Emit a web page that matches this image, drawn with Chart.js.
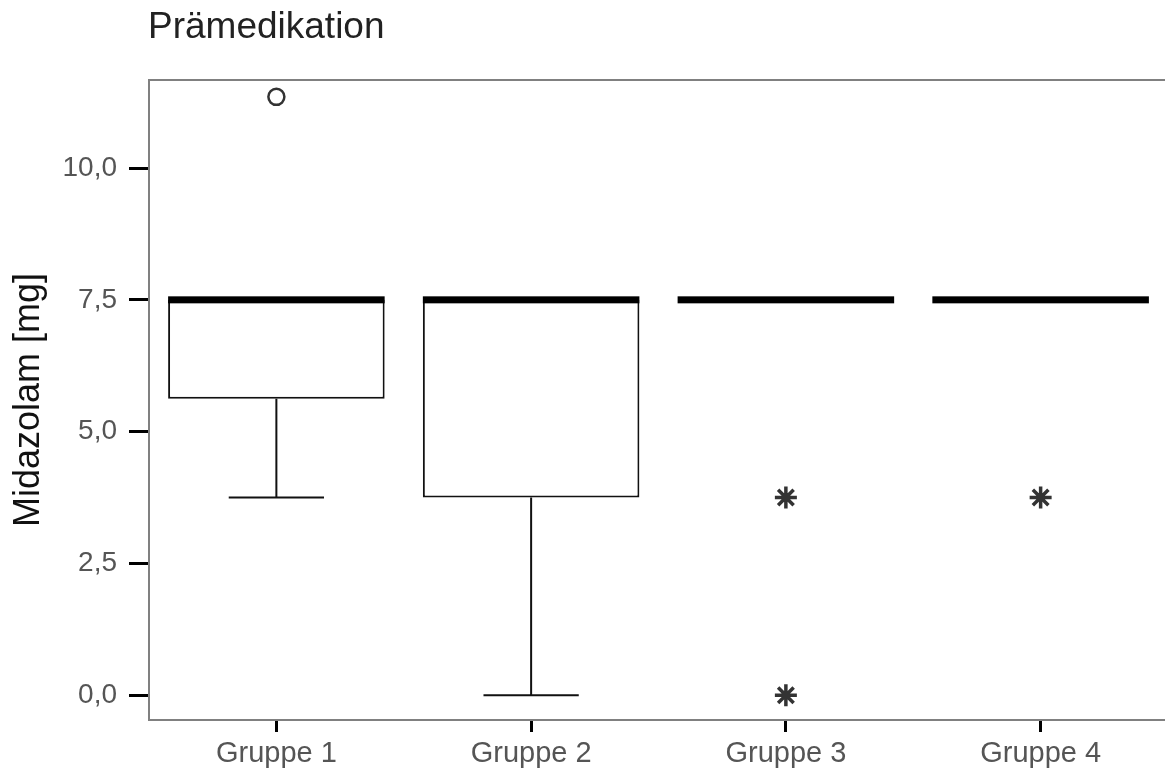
<!DOCTYPE html>
<html>
<head>
<meta charset="utf-8">
<script src="https://cdn.jsdelivr.net/npm/chart.js@4/dist/chart.umd.min.js"></script>
<style>
  html, body { margin: 0; padding: 0; overflow: hidden; background: #fff; }
  canvas { display: block; }
</style>
</head>
<body>
<canvas id="chart" width="1168" height="771"></canvas>
<script>
// Daten
const gruppen = ['Gruppe 1', 'Gruppe 2', 'Gruppe 3', 'Gruppe 4'];
const q1 = [5.625, 3.75, 7.5, 7.5];
const q3 = [7.5, 7.5, 7.5, 7.5];
const median = [7.5, 7.5, 7.5, 7.5];
const whiskerMin = [3.75, 0, 7.5, 7.5];
const whiskerMax = [7.5, 7.5, 7.5, 7.5];

// Ausreißer (Kreis) und Extremwerte (Stern)
const ausreisserGruppe = ['Gruppe 1'];
const ausreisserWert = [11.35];
const extremGruppe = ['Gruppe 3', 'Gruppe 3', 'Gruppe 4'];
const extremWert = [3.75, 0, 3.75];

const yTicks = [0, 2.5, 5, 7.5, 10];

const fmt = v => v.toFixed(1).replace('.', ',');

// Median, Whisker, obere Rahmenlinie und Titel
const boxPlugin = {
  id: 'boxPlugin',
  afterDatasetsDraw(chart) {
    const ctx = chart.ctx;
    const y = chart.scales.y;
    const meta = chart.getDatasetMeta(0);
    ctx.save();
    meta.data.forEach((bar, i) => {
      const half = bar.width / 2;
      const yQ1 = y.getPixelForValue(q1[i]);
      const yQ3 = y.getPixelForValue(q3[i]);
      ctx.strokeStyle = '#111';
      ctx.lineWidth = 2;
      // unterer Whisker
      if (whiskerMin[i] < q1[i]) {
        const yMin = y.getPixelForValue(whiskerMin[i]);
        ctx.beginPath();
        ctx.moveTo(bar.x, yQ1);
        ctx.lineTo(bar.x, yMin);
        ctx.moveTo(bar.x - half * 0.44, yMin);
        ctx.lineTo(bar.x + half * 0.44, yMin);
        ctx.stroke();
      }
      // oberer Whisker
      if (whiskerMax[i] > q3[i]) {
        const yMax = y.getPixelForValue(whiskerMax[i]);
        ctx.beginPath();
        ctx.moveTo(bar.x, yQ3);
        ctx.lineTo(bar.x, yMax);
        ctx.moveTo(bar.x - half * 0.44, yMax);
        ctx.lineTo(bar.x + half * 0.44, yMax);
        ctx.stroke();
      }
      // Median
      const yMed = y.getPixelForValue(median[i]);
      ctx.fillStyle = '#000';
      ctx.fillRect(bar.x - half, yMed - 3.5, bar.width, 7);
    });
    ctx.restore();
  },
  afterDraw(chart) {
    const ctx = chart.ctx;
    const a = chart.chartArea;
    ctx.save();
    ctx.strokeStyle = '#808080';
    ctx.lineWidth = 2;
    ctx.beginPath();
    ctx.moveTo(a.left - 1, a.top);
    ctx.lineTo(a.right, a.top);
    ctx.stroke();
    ctx.fillStyle = '#222';
    ctx.font = '37px "Liberation Sans", Arial, sans-serif';
    ctx.textBaseline = 'alphabetic';
    ctx.fillText('Prämedikation', a.left - 1, 38);
    ctx.restore();
  }
};

new Chart(document.getElementById('chart'), {
  type: 'bar',
  data: {
    labels: gruppen,
    datasets: [
      {
        label: 'Box',
        data: gruppen.map((g, i) => [q1[i], q3[i]]),
        backgroundColor: '#fff',
        borderColor: '#111',
        borderWidth: 2,
        borderSkipped: false,
        barPercentage: 0.85,
        categoryPercentage: 1
      },
      {
        type: 'scatter',
        label: 'Ausreißer',
        data: ausreisserGruppe.map((g, i) => ({ x: g, y: ausreisserWert[i] })),
        pointStyle: 'circle',
        pointRadius: 8,
        borderColor: '#333',
        backgroundColor: '#fff',
        borderWidth: 2.5
      },
      {
        type: 'scatter',
        label: 'Extremwerte',
        data: extremGruppe.map((g, i) => ({ x: g, y: extremWert[i] })),
        pointStyle: 'star',
        pointRadius: 11,
        borderColor: '#333',
        backgroundColor: '#333',
        borderWidth: 3.5
      }
    ]
  },
  options: {
    responsive: false,
    animation: false,
    layout: { autoPadding: false, padding: { top: 80, left: 0, right: 0, bottom: 0 } },
    plugins: {
      legend: { display: false },
      tooltip: { enabled: false },
      title: { display: false }
    },
    scales: {
      x: {
        type: 'category',
        offset: true,
        grid: {
          offset: false,
          drawOnChartArea: false,
          drawTicks: true,
          tickLength: 12,
          tickWidth: 3,
          tickColor: '#000'
        },
        border: { color: '#808080', width: 2 },
        ticks: {
          color: '#555',
          padding: 5,
          font: { family: '"Liberation Sans", Arial, sans-serif', size: 29 }
        },
        afterFit(scale) { scale.height = 51; }
      },
      y: {
        min: -0.47,
        max: 11.67,
        afterBuildTicks(scale) {
          scale.ticks = yTicks.map(v => ({ value: v }));
        },
        grid: {
          drawOnChartArea: false,
          drawTicks: true,
          tickLength: 20,
          tickWidth: 3,
          tickColor: '#000'
        },
        border: { color: '#808080', width: 2 },
        ticks: {
          color: '#555',
          padding: 12,
          callback: v => fmt(v),
          font: { family: '"Liberation Sans", Arial, sans-serif', size: 28 }
        },
        title: {
          display: true,
          text: 'Midazolam [mg]',
          color: '#111',
          padding: { top: 7, bottom: 0 },
          font: { family: '"Liberation Sans", Arial, sans-serif', size: 36 }
        },
        afterFit(scale) { scale.width = 149; }
      }
    }
  },
  plugins: [boxPlugin]
});
</script>
</body>
</html>
